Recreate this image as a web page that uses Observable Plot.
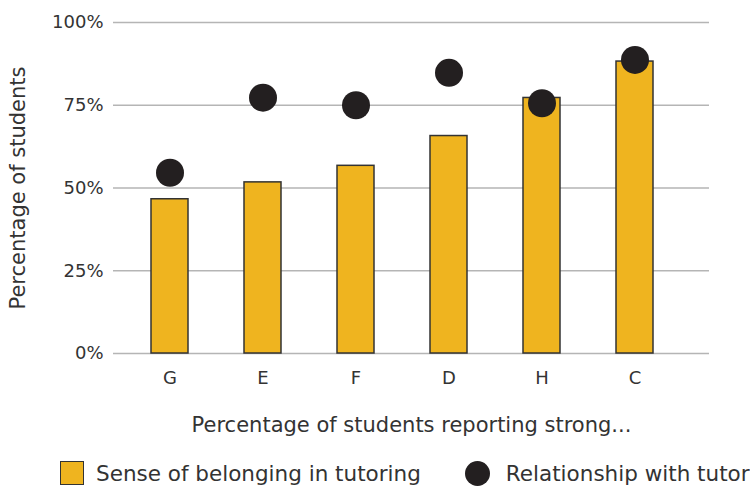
<!DOCTYPE html>
<html><head><meta charset="utf-8">
<script src="https://cdn.jsdelivr.net/npm/d3@7"></script>
<script src="https://cdn.jsdelivr.net/npm/@observablehq/plot@0.6"></script>
<style>
html,body{margin:0;padding:0;background:#fff;}
#chart svg{display:block;}
.legend{display:flex;align-items:center;height:26px;padding-top:20px;padding-left:60px;font-family:"DejaVu Sans",sans-serif;font-size:21.5px;color:#333;white-space:nowrap;}
.sw{width:22px;height:22px;border:1.5px solid #333;margin-right:12px;box-sizing:content-box;}
.dot{width:25px;height:25px;border-radius:50%;margin-right:16px;margin-left:44px;}
</style></head><body>
<div id="chart"></div>
<script>
const categories = ["G", "E", "F", "D", "H", "C"];
const belonging = [46.6, 51.7, 56.7, 65.7, 77.2, 88.2];
const relationship = [54.6, 77.3, 75.0, 84.8, 75.6, 88.7];
const yTicks = [0, 25, 50, 75, 100];
const seriesNames = ["Sense of belonging in tutoring", "Relationship with tutor"];
const seriesColors = ["#efb41f", "#231f20"];
const xTitle = "Percentage of students reporting strong...";
const yTitle = "Percentage of students";

const data = categories.map((c, i) => ({category: c, belonging: belonging[i], relationship: relationship[i]}));

const font = "'DejaVu Sans', sans-serif";
const chart = Plot.plot({
  width: 750,
  height: 440,
  marginTop: 22,
  marginLeft: 113,
  marginRight: 41,
  marginBottom: 87,
  style: {fontFamily: font, fontSize: "18px", color: "#333", background: "#fff", overflow: "visible"},
  x: {domain: categories, paddingInner: 0.604, paddingOuter: 0.494, align: 0.40},
  y: {domain: [0, 100]},
  marks: [
    Plot.ruleY(yTicks, {stroke: "#b5b5b5", strokeWidth: 1.5}),
    Plot.barY(data, {x: "category", y: "belonging", fill: seriesColors[0], stroke: "#333", strokeWidth: 1.5}),
    Plot.dot(data, {x: "category", y: "relationship", r: 14, fill: seriesColors[1], stroke: null}),
    Plot.axisX({tickSize: 0, tickPadding: 18, fontSize: 18, label: null}),
    Plot.axisX({tickSize: 0, ticks: [], fontSize: 21, label: xTitle, labelAnchor: "center", labelOffset: 78, labelArrow: "none"}),
    Plot.axisY({ticks: yTicks, tickFormat: d => d + "%", tickSize: 0, tickPadding: 10, fontSize: 18, label: null}),
    Plot.axisY({ticks: [], tickSize: 0, fontSize: 21, label: yTitle, labelAnchor: "center", labelOffset: 103, labelArrow: "none"})
  ]
});
document.getElementById("chart").appendChild(chart);

const legend = document.createElement("div");
legend.className = "legend";
legend.innerHTML = `<div class="sw" style="background:${seriesColors[0]}"></div><span>${seriesNames[0]}</span>` +
  `<div class="dot" style="background:${seriesColors[1]}"></div><span>${seriesNames[1]}</span>`;
document.body.appendChild(legend);
</script>
</body></html>
